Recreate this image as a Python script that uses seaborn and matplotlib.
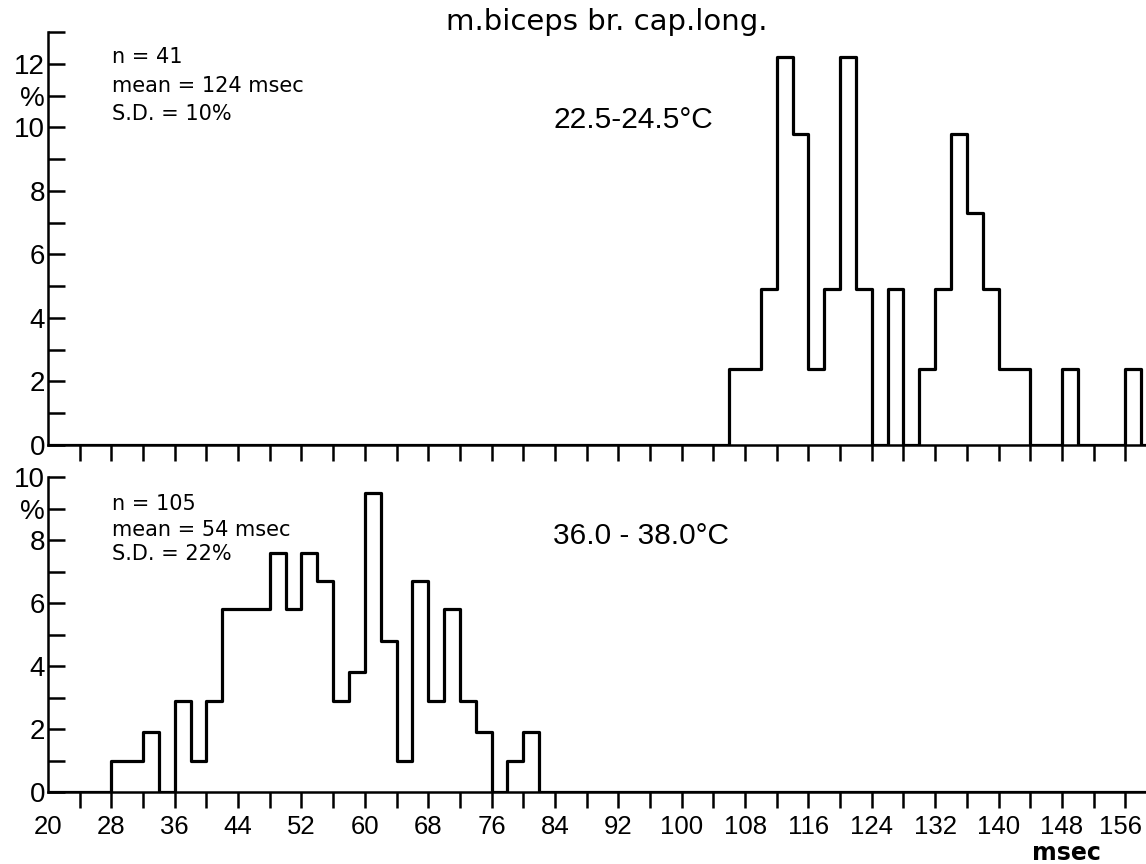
"""
Twitch time histograms, m. biceps br. cap. long., at two temperatures
"""

import numpy as np
import pandas as pd
import matplotlib.pyplot as plt
import matplotlib.transforms as mtransforms
import seaborn as sns

# histogram heights in %, 2 msec bins, starting at the given left edge
top_bin_start = 106
top_pct = [2.4, 2.4, 4.9, 12.2, 9.8, 2.4, 4.9, 12.2, 4.9, 0, 4.9, 0, 2.4,
           4.9, 9.8, 7.3, 4.9, 2.4, 2.4, 0, 0, 2.4, 0, 0, 0, 2.4]
bottom_bin_start = 28
bottom_pct = [1.0, 1.0, 1.9, 0, 2.9, 1.0, 2.9, 5.8, 5.8, 5.8, 7.6, 5.8, 7.6,
              6.7, 2.9, 3.8, 9.5, 4.8, 1.0, 6.7, 2.9, 5.8, 2.9, 1.9, 0, 1.0, 1.9]

top_stats = ['n = 41', 'mean = 124 msec', 'S.D. = 10%']
bottom_stats = ['n = 105', 'mean = 54 msec', 'S.D. = 22%']
top_temp = '22.5-24.5°C'
bottom_temp = '36.0 - 38.0°C'
title = 'm.biceps br. cap.long.'

top_ylabels = {0: '0', 2: '2', 4: '4', 6: '6', 8: '8', 10: '10', 11: '%', 12: '12'}
bottom_ylabels = {0: '0', 2: '2', 4: '4', 6: '6', 8: '8', 9: '%', 10: '10'}

sns.set_style('ticks')
plt.rcParams.update({'text.color': 'black', 'axes.edgecolor': 'black',
                     'xtick.color': 'black', 'ytick.color': 'black'})
narrow = ['Liberation Sans', 'DejaVu Sans']
plain = ['DejaVu Sans']

fig = plt.figure(figsize=(11.46, 8.64), dpi=100)
ax_top = fig.add_axes([0.0419, 0.485, 0.958, 0.478])
ax_bot = fig.add_axes([0.0419, 0.0833, 0.958, 0.3646])

panels = [
    (ax_top, top_bin_start, top_pct, 13, top_ylabels, top_stats, top_temp,
     [0.925, 0.855, 0.787], 0.768),
    (ax_bot, bottom_bin_start, bottom_pct, 10, bottom_ylabels, bottom_stats, bottom_temp,
     [0.895, 0.813, 0.737], 0.787),
]

for ax, start, pct, ymax, ylabels, stats, temp, stat_y, temp_y in panels:
    df = pd.DataFrame({'msec': start + 1 + 2 * np.arange(len(pct)), 'pct': pct})
    sns.histplot(data=df, x='msec', weights='pct', binwidth=2, binrange=(20, 160),
                 element='step', fill=False, color='black', linewidth=2.3, ax=ax)
    ax.set_xlim(20, 158.6)
    ax.set_ylim(0, ymax)
    ax.set_xlabel('')
    ax.set_ylabel('')

    yt = np.arange(0, ymax + 1)
    ax.set_yticks(yt)
    ax.set_yticklabels([ylabels.get(int(v), '') for v in yt], fontsize=20, family=narrow)
    ax.tick_params(axis='y', direction='in', length=12, width=1.8, pad=2)

    ax.set_xticks(np.arange(20, 157, 8))
    ax.set_xticks(np.arange(24, 157, 8), minor=True)
    ax.tick_params(axis='x', which='both', direction='out', length=11.5, width=1.8, pad=5)
    ax.xaxis.get_major_ticks()[0].tick1line.set_visible(False)

    for s in ['left', 'bottom']:
        ax.spines[s].set_linewidth(1.8)
    sns.despine(ax=ax)

    for txt, yy in zip(stats, stat_y):
        ax.text(0.0583, yy, txt, transform=ax.transAxes, fontsize=15,
                va='baseline', ha='left', family=plain)
    ax.text(0.46, temp_y, temp, transform=ax.transAxes, fontsize=21.5,
            va='baseline', ha='left', family=narrow)

ax_top.set_xticklabels([])
ax_bot.set_xticklabels([str(v) for v in np.arange(20, 157, 8)], fontsize=18.5, family=narrow)
# last label sits against the right edge of the page
last = ax_bot.get_xticklabels()[-1]
last.set_transform(last.get_transform() + mtransforms.ScaledTranslation(-0.05, 0, fig.dpi_scale_trans))

fig.text(607 / 1146, 1 - 30 / 864, title, ha='center', va='baseline', fontsize=21, family=plain)
fig.text(1066 / 1146, 4 / 864, 'msec', ha='center', va='baseline', fontsize=17,
         fontweight='bold', family=plain)

plt.savefig('out.png', dpi=100)
plt.close()
